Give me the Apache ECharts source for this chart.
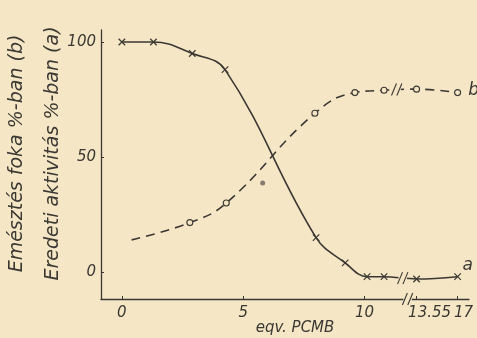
<!DOCTYPE html>
<html><head><meta charset="utf-8">
<script src="https://cdn.jsdelivr.net/npm/echarts@6/dist/echarts.min.js"></script>
<style>html,body{margin:0;padding:0;background:#f5e7c6;}#c{width:477px;height:338px;}</style>
</head><body><div id="c"></div>
<script>
// ---- data ----
const xA = [0, 1.3, 2.9, 4.25, 8.0, 9.2, 10.1, 10.8, 13.55, 17];
const yA = [100, 100, 95, 88, 15, 4, -2, -2, -3, -2];
const xB = [0.4, 2.8, 4.3, 7.95, 9.6, 10.8, 13.55, 17];
const yB = [14, 21.5, 30, 69, 78, 79, 79.5, 78];
const strayDot = [[5.8, 38.7]];
const xTickValues = [0, 5, 10, 13.55, 17];
const xTickLabels = ['0', '5', '10', '13.55', '17'];
const yTickValues = [0, 50, 100];
const yTickLabels = ['0', '50', '100'];
const seriesLabels = ['a', 'b'];
const xName = 'eqv. PCMB';
const yName = ['Emésztés foka %-ban (b)', 'Eredeti aktivitás %-ban (a)'];

// ---- broken x scale: linear up to the break, compressed after it ----
const BRK_REAL = 11.5, AFTER0 = 13.55, AFTER_POS = 12.14, AFTER_K = 0.49;
const BRK_POS = 11.62;
function disp(v) { return v <= BRK_REAL ? v : AFTER_POS + (v - AFTER0) * AFTER_K; }

const INK = '#3b3833';
const PAPER = '#f5e7c6';
const xMin = -0.86, xMax = 14.3, yMin = -11.7, yMax = 105.2;

const dataA = xA.map((x, i) => {
  const it = { value: [disp(x), yA[i]] };
  if (i === xA.length - 1) it.label = { show: true, formatter: seriesLabels[0], position: 'right', offset: [-4, -11] };
  return it;
});
const dataB = xB.map((x, i) => {
  const it = { value: [disp(x), yB[i]] };
  if (i === 0) it.symbol = 'none';
  if (i === xB.length - 1) it.label = { show: true, formatter: seriesLabels[1], position: 'right', offset: [2, -2] };
  return it;
});

// value of each curve at the break (interpolated between neighbouring read points)
function atBreak(xs, ys) {
  for (let i = 0; i < xs.length - 1; i++) {
    const a = disp(xs[i]), b = disp(xs[i + 1]);
    if (a <= BRK_POS && b >= BRK_POS) return ys[i] + (ys[i + 1] - ys[i]) * (BRK_POS - a) / (b - a);
  }
  return ys[ys.length - 1];
}
const breaks = [[BRK_POS + 0.15, yMin], [BRK_POS - 0.05, atBreak(xA, yA)], [BRK_POS - 0.3, atBreak(xB, yB)]];

const font = { fontFamily: 'DejaVu Sans', fontStyle: 'italic', color: INK };
const chart = echarts.init(document.getElementById('c'), null, { renderer: 'canvas' });
chart.setOption({
  backgroundColor: PAPER,
  animation: false,
  grid: { left: 101, right: 8, top: 30, bottom: 39, containLabel: false, outerBoundsMode: 'none' },
  xAxis: {
    type: 'value', min: xMin, max: xMax,
    name: xName, nameLocation: 'middle', nameGap: 22, nameMoveOverlap: false,
    nameTextStyle: Object.assign({ fontSize: 15, padding: [0, 0, 0, 20] }, font),
    axisLine: { onZero: false, lineStyle: { color: INK, width: 1.3 } },
    axisTick: { show: true, inside: true, length: 3, customValues: xTickValues.map(disp), lineStyle: { color: INK } },
    splitLine: { show: false },
    axisLabel: Object.assign({
      fontSize: 15, margin: 7,
      customValues: xTickValues.map(disp),
      formatter: function (v) {
        let best = 0;
        xTickValues.forEach((t, i) => { if (Math.abs(disp(t) - v) < Math.abs(disp(xTickValues[best]) - v)) best = i; });
        const s = xTickLabels[best];
        if (s === '13.55') return '{p|' + s + '}';
        if (s === '17') return '{q|' + s + '}';
        return s;
      },
      rich: {
        p: Object.assign({ fontSize: 15, padding: [0, 0, 0, 26] }, font),
        q: Object.assign({ fontSize: 15, padding: [0, 0, 0, 12] }, font)
      }
    }, font)
  },
  yAxis: {
    type: 'value', min: yMin, max: yMax,
    name: yName.join('\n'), nameLocation: 'middle', nameGap: 30, nameRotate: 90, nameMoveOverlap: false,
    nameTextStyle: Object.assign({ fontSize: 19, lineHeight: 36, padding: [0, 0, 0, 22] }, font),
    axisLine: { onZero: false, lineStyle: { color: INK, width: 1.3 } },
    axisTick: { show: true, inside: true, length: 3, customValues: yTickValues, lineStyle: { color: INK } },
    splitLine: { show: false },
    axisLabel: Object.assign({
      fontSize: 15, margin: 5, customValues: yTickValues,
      formatter: function (v) { const i = yTickValues.indexOf(Math.round(v)); return i >= 0 ? yTickLabels[i] : ''; }
    }, font)
  },
  series: [
    {
      name: seriesLabels[0], type: 'line', smooth: 0.4, data: dataA,
      symbol: 'path://M0,0L10,10M0,10L10,0', symbolSize: 6.5, showAllSymbol: true,
      itemStyle: { color: 'rgba(0,0,0,0)', borderColor: INK, borderWidth: 1.2 },
      lineStyle: { color: INK, width: 1.6 },
      label: Object.assign({ fontSize: 17 }, font)
    },
    {
      name: seriesLabels[1], type: 'line', smooth: 0.45, data: dataB,
      symbol: 'circle', symbolSize: 6, showAllSymbol: true,
      itemStyle: { color: PAPER, borderColor: INK, borderWidth: 1.1 },
      lineStyle: { color: INK, width: 1.6, type: [9, 6] },
      label: Object.assign({ fontSize: 17 }, font)
    },
    {
      type: 'scatter', data: strayDot, symbol: 'circle', symbolSize: 5,
      itemStyle: { color: '#6a6258' }
    },
    {
      type: 'custom', data: breaks, z: 10, clip: false,
      renderItem: function (params, api) {
        const p = api.coord([api.value(0), api.value(1)]);
        const d = 3.2;
        return {
          type: 'group', children: [
            { type: 'rect', shape: { x: p[0] - d - 1, y: p[1] - 3, width: 2 * d + 2, height: 6 }, style: { fill: PAPER } },
            { type: 'line', shape: { x1: p[0] - d - 2, y1: p[1] + 6, x2: p[0] - d + 3, y2: p[1] - 6 }, style: { stroke: INK, lineWidth: 1.1 } },
            { type: 'line', shape: { x1: p[0] + d - 3, y1: p[1] + 6, x2: p[0] + d + 2, y2: p[1] - 6 }, style: { stroke: INK, lineWidth: 1.1 } }
          ]
        };
      }
    }
  ]
});
</script></body></html>
